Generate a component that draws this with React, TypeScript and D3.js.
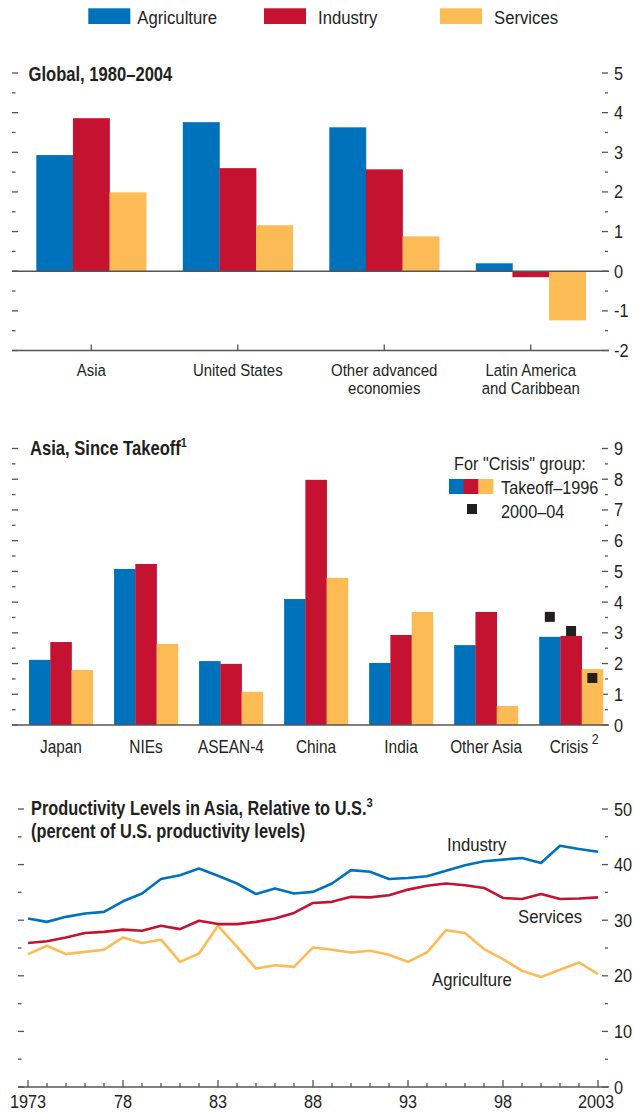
import * as d3 from 'd3'

const FONT = "'Liberation Sans', Arial, sans-serif"
const INK = '#231f20'
const AXIS = '#555'

const SECTORS = ['Agriculture', 'Industry', 'Services']
const COLORS = ['#0072bc', '#c41230', '#fdbb55']

// Panel 1: Global, 1980–2004
const globalCats = [['Asia'], ['United States'], ['Other advanced', 'economies'], ['Latin America', 'and Caribbean']]
const globalAgri = [2.93, 3.76, 3.63, 0.2]
const globalInd = [3.86, 2.6, 2.57, -0.15]
const globalServ = [1.99, 1.16, 0.88, -1.24]
const globalTicks = [-2, -1, 0, 1, 2, 3, 4, 5]

// Panel 2: Asia, since takeoff
const asiaCats = ['Japan', 'NIEs', 'ASEAN-4', 'China', 'India', 'Other Asia', 'Crisis']
const asiaAgri = [2.12, 5.08, 2.08, 4.1, 2.02, 2.6, 2.87]
const asiaInd = [2.7, 5.24, 1.99, 7.98, 2.93, 3.68, 2.9]
const asiaServ = [1.79, 2.64, 1.08, 4.79, 3.68, 0.62, 1.82]
const crisis2000 = [3.52, 3.06, 1.53]
const asiaTicks = [0, 1, 2, 3, 4, 5, 6, 7, 8, 9]

// Panel 3: productivity levels relative to U.S.
const years = d3.range(1973, 2004)
const yearLabels = [[1973, '1973'], [1978, '78'], [1983, '83'], [1988, '88'], [1993, '93'], [1998, '98'], [2003, '2003']] as const
const prodInd = [30.3, 29.7, 30.6, 31.2, 31.5, 33.4, 34.8, 37.4, 38.1, 39.3, 38.0, 36.6, 34.7, 35.7, 34.8, 35.1,
  36.6, 39.0, 38.7, 37.4, 37.6, 37.9, 38.9, 39.9, 40.6, 40.9, 41.2, 40.3, 43.4, 42.8, 42.3]
const prodServ = [25.9, 26.2, 26.9, 27.7, 27.9, 28.3, 28.1, 29.0, 28.4, 29.9, 29.3, 29.3, 29.7, 30.3, 31.3, 33.1,
  33.3, 34.2, 34.1, 34.5, 35.5, 36.2, 36.6, 36.3, 35.8, 34.0, 33.8, 34.7, 33.8, 33.9, 34.1]
const prodAgri = [23.9, 25.4, 23.9, 24.3, 24.7, 26.9, 25.9, 26.5, 22.5, 24.0, 29.0, 25.2, 21.3, 21.9, 21.6, 25.1,
  24.7, 24.2, 24.5, 23.8, 22.5, 24.2, 28.2, 27.7, 24.8, 23.0, 20.9, 19.8, 21.1, 22.4, 20.3]
const prodTicks = [10, 20, 30, 40, 50]

const LEFT = 12
const RIGHT = 609

// condensed text: Liberation Sans squeezed horizontally to look like the narrow face of the original
function T({ x, y, size = 17, bold = false, anchor = 'start', children }: {
  x: number; y: number; size?: number; bold?: boolean; anchor?: 'start' | 'middle' | 'end'; children: React.ReactNode
}) {
  return (
    <text transform={`translate(${x},${y}) scale(${bold ? 0.83 : 0.88},1)`} fontSize={size}
      fontWeight={bold ? 'bold' : 'normal'} textAnchor={anchor} fill={INK}>
      {children}
    </text>
  )
}

function SideTicks({ y, min, max, step, labels, leftX = LEFT }: {
  y: d3.ScaleLinear<number, number>; min: number; max: number; step: number; labels: number[]; leftX?: number
}) {
  const vals = d3.range(min, max + step / 2, step)
  return (
    <g>
      {vals.map((v, i) => {
        const major = i % 2 === 0
        return (
          <g key={i}>
            <line x1={leftX} x2={leftX + (major ? 6 : 3.5)} y1={y(v)} y2={y(v)} stroke={AXIS} strokeWidth={1.3} />
            <line x1={RIGHT - (major ? 7 : 4)} x2={RIGHT - 1} y1={y(v)} y2={y(v)} stroke={AXIS} strokeWidth={1.3} />
          </g>
        )
      })}
      {labels.map(v => (
        <T key={v} x={614} y={y(v) + 6.5} size={18.5}>{v}</T>
      ))}
    </g>
  )
}

export default function App() {
  // ---- panel 1
  const y1 = d3.scaleLinear().domain([-2, 5]).range([350.5, 73])
  const x1 = d3.scaleBand<number>().domain(d3.range(globalCats.length)).range([18, 604]).paddingInner(0.25).paddingOuter(0.125)
  const s1 = d3.scaleBand<number>().domain([0, 1, 2]).range([0, x1.bandwidth()])
  const g1 = [globalAgri, globalInd, globalServ]

  // ---- panel 2
  const y2 = d3.scaleLinear().domain([0, 9]).range([725, 448.5])
  const x2 = d3.scaleBand<number>().domain(d3.range(asiaCats.length)).range([18.4, 613.6]).paddingInner(0.25).paddingOuter(0.125)
  const s2 = d3.scaleBand<number>().domain([0, 1, 2]).range([0, x2.bandwidth()])
  const g2 = [asiaAgri, asiaInd, asiaServ]
  const crisisIdx = asiaCats.length - 1

  // ---- panel 3
  const y3 = d3.scaleLinear().domain([0, 50]).range([1087, 809])
  const x3 = d3.scaleLinear().domain([1973, 2003]).range([28, 598])
  const line = d3.line<number>().x((_, i) => x3(years[i])).y(d => y3(d))
  // industry blue, services red, agriculture yellow
  const series3 = [prodAgri, prodInd, prodServ]
  const lineColors = [COLORS[2], COLORS[0], COLORS[1]]

  return (
    <svg width={634} height={1112} style={{ position: 'absolute', left: 0, top: 0 }} fontFamily={FONT}>
      <rect width={634} height={1112} fill="#fff" />

      {/* legend */}
      {SECTORS.map((s, i) => {
        const lx = [88.3, 264, 440][i]
        return (
          <g key={s}>
            <rect x={lx} y={8.3} width={42} height={15.7} fill={COLORS[i]} />
            <T x={lx + (i === 0 ? 49 : 54)} y={23.5} size={19}>{s}</T>
          </g>
        )
      })}

      {/* ===== Panel 1 ===== */}
      <T x={28.5} y={80.5} size={20} bold>Global, 1980–2004</T>
      <SideTicks y={y1} min={-2} max={5} step={0.5} labels={globalTicks} />
      {globalCats.map((cat, ci) => (
        <g key={ci}>
          {g1.map((vals, si) => {
            const v = vals[ci]
            return (
              <rect key={si} x={x1(ci)! + s1(si)!} width={s1.bandwidth() + 0.3}
                y={Math.min(y1(v), y1(0))} height={Math.abs(y1(v) - y1(0))} fill={COLORS[si]} />
            )
          })}
          <line x1={x1(ci)! + x1.bandwidth() / 2} x2={x1(ci)! + x1.bandwidth() / 2} y1={y1(-2)} y2={y1(-2) - 6} stroke={AXIS} strokeWidth={1.3} />
          {cat.map((t, li) => (
            <T key={li} x={x1(ci)! + x1.bandwidth() / 2} y={375.5 + li * 18} anchor="middle" size={17}>{t}</T>
          ))}
        </g>
      ))}
      <line x1={LEFT} x2={RIGHT} y1={y1(0)} y2={y1(0)} stroke={AXIS} strokeWidth={1.5} />
      <line x1={LEFT} x2={RIGHT} y1={y1(-2)} y2={y1(-2)} stroke={AXIS} strokeWidth={1.5} />

      {/* ===== Panel 2 ===== */}
      <T x={30} y={455} size={20} bold>
        Asia, Since Takeoff<tspan fontSize={13} dy={-8}>1</tspan>
      </T>
      <SideTicks y={y2} min={0} max={9} step={0.5} labels={asiaTicks} />
      {asiaCats.map((cat, ci) => (
        <g key={cat}>
          {g2.map((vals, si) => (
            <rect key={si} x={x2(ci)! + s2(si)!} width={s2.bandwidth() + 0.3}
              y={y2(vals[ci])} height={y2(0) - y2(vals[ci])} fill={COLORS[si]} />
          ))}
          <T x={x2(ci)! + x2.bandwidth() / 2 + (ci === crisisIdx ? 3 : 0)} y={753} anchor="middle" size={17.5}>
            {cat}{ci === crisisIdx && <tspan fontSize={14} dx={4} dy={-9}>2</tspan>}
          </T>
        </g>
      ))}
      {crisis2000.map((v, si) => (
        <rect key={si} x={x2(crisisIdx)! + s2(si)! + s2.bandwidth() / 2 - 5} y={y2(v) - 5} width={10} height={10} fill={INK} />
      ))}
      <line x1={LEFT} x2={RIGHT} y1={y2(0)} y2={y2(0)} stroke={AXIS} strokeWidth={1.5} />
      {/* crisis legend */}
      <T x={454} y={470} size={18.5}>For "Crisis" group:</T>
      {COLORS.map((c, i) => (
        <rect key={c} x={449 + i * 14.7} y={479} width={15} height={15} fill={c} />
      ))}
      <T x={501} y={493.5} size={18.5}>Takeoff–1996</T>
      <rect x={467} y={504} width={10} height={10} fill={INK} />
      <T x={501} y={517.5} size={18.5}>2000–04</T>

      {/* ===== Panel 3 ===== */}
      <T x={31} y={815} size={19.7} bold>
        Productivity Levels in Asia, Relative to U.S.<tspan fontSize={13.5} dy={-8}>3</tspan>
      </T>
      <T x={31} y={837.5} size={19.7} bold>(percent of U.S. productivity levels)</T>
      <SideTicks y={y3} min={0} max={50} step={5} labels={prodTicks} leftX={18} />
      <T x={614} y={1094} size={18.5}>0</T>
      <line x1={18} x2={RIGHT} y1={y3(0)} y2={y3(0)} stroke={AXIS} strokeWidth={1.5} />
      {years.map(yr => {
        const major = (yr - 1973) % 5 === 0
        return <line key={yr} x1={x3(yr)} x2={x3(yr)} y1={y3(0)} y2={y3(0) - (major ? 7 : 4)} stroke={AXIS} strokeWidth={1.3} />
      })}
      {yearLabels.map(([yr, t]) => (
        <T key={yr} x={x3(yr) - (yr === 2003 ? 2 : 0)} y={1108} anchor="middle" size={18.5}>{t}</T>
      ))}
      {series3.map((s, i) => (
        <path key={i} d={line(s)!} fill="none" stroke={lineColors[i]} strokeWidth={2.6} strokeLinejoin="round" />
      ))}
      <T x={447} y={851} size={19}>Industry</T>
      <T x={518} y={923} size={19}>Services</T>
      <T x={432} y={986} size={19}>Agriculture</T>
    </svg>
  )
}
